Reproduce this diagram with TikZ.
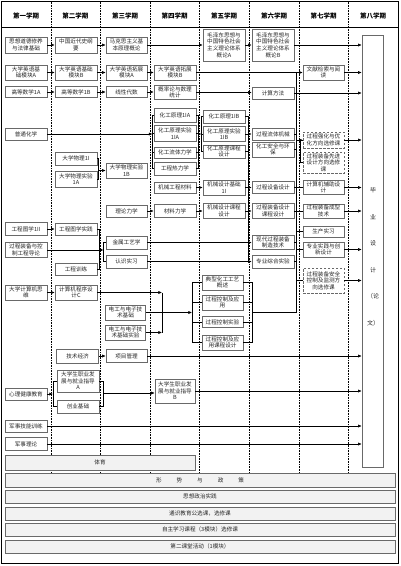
\documentclass[tikz,border=0pt]{standalone}
\usepackage{fontspec}
\setmainfont{Noto Sans CJK SC}
\usetikzlibrary{arrows.meta}
\definecolor{boxgray}{RGB}{105,105,105}
\definecolor{barfill}{RGB}{242,242,242}
\begin{document}
\begin{tikzpicture}[x=1pt,y=-1pt,
  bx/.style={draw=boxgray, fill=white, line width=0.6pt, align=center, inner sep=0pt,
     minimum width=42pt, font=\fontsize{5.6}{6.6}\selectfont, text=black!85},
  dbx/.style={bx, dash pattern=on 2.5pt off 1.5pt},
  hd/.style={font=\fontsize{6.5}{7}\selectfont\bfseries, inner sep=0pt},
  ar/.style={-{Latex[length=3.6pt,width=3.2pt]}, line width=0.6pt},
  ln/.style={line width=0.6pt},
  sep/.style={densely dotted, line width=0.6pt},
  barbox/.style={draw=boxgray, fill=barfill, line width=0.6pt, inner sep=0pt,
     font=\fontsize{5.6}{6.6}\selectfont, text=black!85}]
\useasboundingbox (0,0) rectangle (400,566);
% frame
\draw[ln] (1.5,1.5) rectangle (398.5,563);
\draw[ln] (1.5,27.5) -- (398.5,27.5);
\foreach \x in {51,100,150,199,249,299,348} \draw[sep] (\x,1.5) -- (\x,472);
% header
\node[hd] (h1) at (26,16) {第一学期};
\node[hd] (h2) at (75.5,16) {第二学期};
\node[hd] (h3) at (125,16) {第三学期};
\node[hd] (h4) at (174.5,16) {第四学期};
\node[hd] (h5) at (224,16) {第五学期};
\node[hd] (h6) at (274,16) {第六学期};
\node[hd] (h7) at (323.5,16) {第七学期};
\node[hd] (h8) at (373,16) {第八学期};
% column 1
\node[bx, minimum height=16] (a1) at (26,45) {思想道德修养\\与法律基础};
\node[bx, minimum height=15] (a2) at (26,72.5) {大学英语基\\础模块A};
\node[bx, minimum height=11] (a3) at (26,92) {高等数学1A};
\node[bx, minimum height=12] (a4) at (26,134) {普通化学};
\node[bx, minimum height=13] (a5) at (26,229) {工程图学1II};
\node[bx, minimum height=15] (a6) at (26,250) {过程装备与控\\制工程导论};
\node[bx, minimum height=15] (a7) at (26,292.5) {大学计算机思\\维};
\node[bx, minimum height=12] (a8) at (26,394) {心理健康教育};
\node[bx, minimum height=12] (a9) at (26,426) {军事技能训练};
\node[bx, minimum height=13] (a10) at (26,444) {军事理论};
% column 2
\node[bx, minimum height=16] (b1) at (76,45) {中国近代史纲\\要};
\node[bx, minimum height=15] (b2) at (76,72.5) {大学英语基础\\模块B};
\node[bx, minimum height=11] (b3) at (76,92) {高等数学1B};
\node[bx, minimum height=13] (b4) at (76,158.5) {大学物理1I};
\node[bx, minimum height=16] (b5) at (76,179) {大学物理实验\\1A};
\node[bx, minimum height=12] (b6) at (76,229) {工程图学实践};
\node[bx, minimum height=12] (b7) at (76,269) {工程训练};
\node[bx, minimum height=15] (b8) at (76,292.5) {计算机程序设\\计C};
\node[bx, minimum height=14] (b9) at (77.5,356) {技术经济};
\node[bx, minimum height=22] (b10) at (78,381) {大学生职业发\\展与就业指导\\A};
\node[bx, minimum height=13] (b11) at (78,406.5) {创业基础};
% column 3
\node[bx, minimum height=16, minimum width=41] (c1) at (126.5,45) {马克思主义基\\本原理概论};
\node[bx, minimum height=15, minimum width=41] (c2) at (126.5,72.5) {大学英语拓展\\模块A};
\node[bx, minimum height=11, minimum width=41] (c3) at (126.5,92) {线性代数};
\node[bx, minimum height=15, minimum width=41] (c4) at (126.5,170.5) {大学物理实验\\1B};
\node[bx, minimum height=12, minimum width=41] (c5) at (126.5,211) {理论力学};
\node[bx, minimum height=13, minimum width=41] (c6) at (126.5,242.5) {金属工艺学};
\node[bx, minimum height=13, minimum width=41] (c7) at (126.5,261.5) {认识实习};
\node[bx, minimum height=15, minimum width=40] (c8) at (125.5,312.5) {电工与电子技\\术基础};
\node[bx, minimum height=15, minimum width=40] (c9) at (125.5,332.5) {电工与电子技\\术基础实验};
\node[bx, minimum height=13, minimum width=41] (c10) at (126.5,356) {项目管理};
% column 4
\node[bx, minimum height=15] (d1) at (175,72.5) {大学英语拓展\\模块B};
\node[bx, minimum height=14] (d2) at (175,92.5) {概率论与数理\\统计};
\node[bx, minimum height=14] (d3) at (175,115) {化工原理1IA};
\node[bx, minimum height=16] (d4) at (175,133.5) {化工原理实验\\1IA};
\node[bx, minimum height=11] (d5) at (175,152.5) {化工流体力学};
\node[bx, minimum height=13] (d6) at (175,168.5) {工程热力学};
\node[bx, minimum height=11] (d7) at (175,187.5) {机械工程材料};
\node[bx, minimum height=13] (d8) at (175,211) {材料力学};
\node[bx, minimum height=24, minimum width=40] (d9) at (175,391) {大学生职业发\\展与就业指导\\B};
% column 5
\node[bx, minimum height=32] (e1) at (224,45) {毛泽东思想与\\中国特色社会\\主义理论体系\\概论A};
\node[bx, minimum height=13] (e2) at (224,116.5) {化工原理1IB};
\node[bx, minimum height=15] (e3) at (224,134) {化工原理实验\\1IB};
\node[bx, minimum height=13] (e4) at (224,151.5) {化工原理课程\\设计};
\node[bx, minimum height=15] (e5) at (224,187.5) {机械设计基础\\1I};
\node[bx, minimum height=15] (e6) at (224,211) {机械设计课程\\设计};
\node[bx, minimum height=15, minimum width=41] (e7) at (222.5,282.5) {典型化工工艺\\概述};
\node[bx, minimum height=15, minimum width=41] (e8) at (222.5,302.5) {过程控制及应\\用};
\node[bx, minimum height=11, minimum width=41] (e9) at (222.5,322) {过程控制实验};
\node[bx, minimum height=15, minimum width=41] (e10) at (222.5,342.5) {过程控制及应\\用课程设计};
% column 6
\node[bx, minimum height=32] (f1) at (273,45) {毛泽东思想与\\中国特色社会\\主义理论体系\\概论B};
\node[bx, minimum height=12] (f2) at (273,93) {计算方法};
\node[bx, minimum height=12] (f3) at (273,134) {过程流体机械};
\node[bx, minimum height=15] (f4) at (273,149.5) {化工安全与环\\保};
\node[bx, minimum height=12] (f5) at (273,187.5) {过程设备设计};
\node[bx, minimum height=15] (f6) at (273,211) {过程装备设计\\课程设计};
\node[bx, minimum height=14] (f7) at (273,242.5) {现代过程装备\\制造技术};
\node[bx, minimum height=13] (f8) at (273,261.5) {专业综合实验};
% column 7
\node[bx, minimum height=15, minimum width=41] (g1) at (323.5,72.5) {文献检索与阅\\读};
\node[dbx, minimum height=16, minimum width=41] (g2) at (323.5,140) {过程强化与优\\化方向选修课};
\node[dbx, minimum height=21, minimum width=41] (g3) at (323.5,162.5) {过程装备先进\\设计方向选修\\课};
\node[bx, minimum height=14, minimum width=41] (g4) at (323.5,187.5) {计算机辅助设\\计};
\node[bx, minimum height=14, minimum width=41] (g5) at (323.5,211) {过程装备成型\\技术};
\node[bx, minimum height=11, minimum width=41] (g6) at (323.5,231.5) {生产实习};
\node[bx, minimum height=15, minimum width=41] (g7) at (323.5,249.5) {专业实践与创\\新设计};
\node[dbx, minimum height=25, minimum width=41] (g8) at (323.5,280.5) {过程装备安全\\控制及监测方\\向选修课};
% column 8
\node[draw=boxgray, fill=white, line width=0.6pt, minimum width=21, minimum height=432, inner sep=0pt] (big) at (372.5,251) {};
\node[align=center, inner sep=0pt, font=\fontsize{6}{26.5}\selectfont, text=black!85] (bigt) at (373,257) {毕\\业\\设\\计\\（论\\文）};
% bottom bars
\node[barbox, minimum width=190, minimum height=15] (p1) at (100,462.5) {体育};
\node[barbox, minimum width=390, minimum height=14] (p2) at (200,480) {形\hspace{15pt}势\hspace{15pt}与\hspace{15pt}政\hspace{15pt}策};
\node[barbox, minimum width=390, minimum height=13] (p3) at (200,496.5) {思想政治实践};
\node[barbox, minimum width=390, minimum height=13] (p4) at (200,513.5) {通识教育公选课，选修课};
\node[barbox, minimum width=390, minimum height=13] (p5) at (200,529.5) {自主学习课程（3模块）选修课};
\node[barbox, minimum width=390, minimum height=13] (p6) at (200,546.5) {第二课堂活动（1模块）};
% ---- connectors ----
% row 1
\draw[ar] (a1) -- (b1);
\draw[ar] (b1) -- (c1);
\draw[ar] (c1) -- (e1);
\draw[ar] (e1) -- (f1);
\draw[ar] (f1.east) -- (f1.east -| big.west);
% row 2
\draw[ar] (a2) -- (b2);
\draw[ar] (b2) -- (c2);
\draw[ar] (c2) -- (d1);
\draw[ar] (d1) -- (g1);
\draw[ar] (g1.east) -- (g1.east -| big.west);
% row 3
\draw[ar] (a3) -- (b3);
\draw[ar] (b3) -- (c3);
\draw[ar] (c3.east) -- (c3.east -| d2.west);
\draw[ar] (d2.east) -- (d2.east -| f2.west);
\draw[ar] (f2.east) -- (f2.east -| big.west);
% chemistry chain
\coordinate (L4) at (152.5,0);
\coordinate (R4) at (198,0);
\coordinate (L5) at (201.5,0);
\coordinate (R5) at (248,0);
\draw[ln] (d3.west) -| (L4 |- d6.west) -- (d6.west);
\draw[ln] (d4.west) -- (L4 |- d4.west) (d5.west) -- (L4 |- d5.west);
\draw[ar] (a4.east) -- (L4 |- a4.east);
\draw[ln] (d3.east) -| (R4 |- d6.east) -- (d6.east);
\draw[ln] (d4.east) -- (R4 |- d4.east) (d5.east) -- (R4 |- d5.east);
\draw[ln] (e2.west) -| (L5 |- e4.west) -- (e4.west);
\draw[ln] (e3.west) -- (L5 |- e3.west);
\draw[-{Latex[length=3pt,width=2.8pt]}, line width=0.6pt] (R4 |- e3.west) -- (L5 |- e3.west);
\coordinate (R5b) at (248,262);
\draw[ln] (e2.east) -| (R5b);
\draw[ln] (e3.east) -- (R5 |- e3.east) (e4.east) -- (R5 |- e4.east);
\draw[ar] (R5 |- f3.west) -- (f3.west);
\draw[ar] (d7) -- (e5);
\draw[ar] (e5) -- (f5);
\draw[ar] (c5) -- (d8);
\draw[ar] (d8) -- (e6);
\draw[ar] (e6) -- (f6);
\draw[ar] (c6) -- (f7);
\draw[ar] (c7) -- (f8);
% physics
\coordinate (R2a) at (98.5,0);
\draw[ln] (b4.east) -| (R2a |- b5.east) -- (b5.east);
\draw[ar] (R2a |- c4.west) -- (c4.west);
% drawing / workshop
\coordinate (R2c) at (99,0);
\coordinate (L3c) at (103.5,0);
\draw[ar] (a5) -- (b6);
\draw[ln] (b6.east) -| (R2c |- b7.east) -- (b7.east);
\draw[ln] (c6.west) -| (L3c |- c7.west) -- (c7.west);
\draw[ar] (a6.east) -- (L3c |- a6.east);
% computer / electrical
\coordinate (V3) at (162,0);
\coordinate (L5c) at (192,0);
\coordinate (R5c) at (252,0);
\coordinate (bus) at (296,0);
\draw[ar] (a7) -- (b8);
\draw[ar] (b8.east) -- (V3 |- b8.east);
\draw[ln] (V3 |- b8.east) -- (V3 |- c9.east);
\draw[ar] (c9.east) -- (V3 |- c9.east);
\draw[ar] (c8.east) -- (L5c |- c8.east);
\draw[ln] (e7.west) -| (L5c |- e10.west) -- (e10.west);
\draw[ln] (e8.west) -- (L5c |- e8.west) (e9.west) -- (L5c |- e9.west);
\draw[ln] (e7.east) -| (R5c |- e10.east) -- (e10.east);
\draw[ln] (e8.east) -- (R5c |- e8.east) (e9.east) -- (R5c |- e9.east);
\draw[ln] (R5c |- c8.east) -- (bus |- c8.east);
% bus between semesters 6 and 7
\draw[ln] (bus |- d1.east) -- (bus |- c8.east);
\foreach \n in {f3,f4,f5,f6,f7,f8} \draw[ln] (\n.east) -- (bus |- \n.east);
\coordinate (L7) at (300.5,0);
\draw[ln] (g2.west) -| (L7 |- g3.west) -- (g3.west);
\draw[ar] (bus |- g2.west) -- (g2.west);
\foreach \n in {g4,g5,g6,g7,g8} \draw[ln] (bus |- \n.west) -- (\n.west);
\foreach \n in {g2,g4,g5,g7,g8} \draw[ar] (\n.east) -- (\n.east -| big.west);
% management
\draw[ar] (b9) -- (c10);
\draw[ar] (c10.east) -- (c10.east -| big.west);
% career
\coordinate (L2d) at (53,0);
\coordinate (R2d) at (103,0);
\draw[ln] (b10.west) -| (L2d |- b11.west) -- (b11.west);
\draw[ar] (a8.east) -- (L2d |- a8.east);
\draw[ln] (b10.east) -| (R2d |- b11.east) -- (b11.east);
\coordinate (j2) at (103,393);
\draw[ar] (j2) -- (j2 -| d9.west);
\draw[ar] (d9.east) -- (d9.east -| big.west);
\draw[ar] (a9.east) -- (a9.east -| big.west);
\draw[ar] (a10.east) -- (a10.east -| big.west);
\end{tikzpicture}
\end{document}
